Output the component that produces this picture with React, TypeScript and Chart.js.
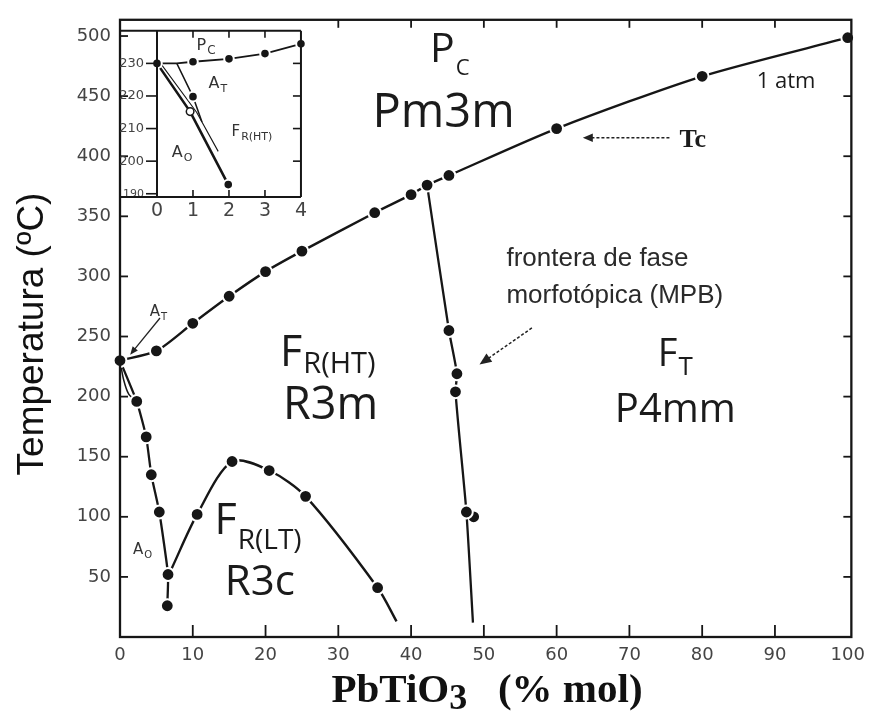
import React, { useEffect, useRef } from "react";
import { Chart, registerables } from "chart.js";
Chart.register(...registerables);

// ---------------- data (main diagram) ----------------
const xTickVals = [0, 10, 20, 30, 40, 50, 60, 70, 80, 90, 100];
const yTickVals = [50, 100, 150, 200, 250, 300, 350, 400, 450, 500];

// Curie temperature line (Pc / ferroelectric boundary)
const tcX = [0, 5, 10, 15, 20, 25, 35, 40, 42.2, 45.2, 60, 80, 100];
const tcT = [230, 238, 261, 283.5, 304, 321, 353, 368, 376, 384, 423, 466.5, 498.6];
const tcDots = [0, 1, 2, 3, 4, 5, 6, 7, 8, 9, 10, 11, 12];

// morphotropic phase boundary
const mpbX = [42.2, 45.2, 46.3, 46.1, 47.6, 48.5];
const mpbT = [376, 255, 219, 204, 104, 12];
const mpbDots = [1, 2, 3, 4];
const mpbExtraX = [48.6];
const mpbExtraT = [100];

// antiferroelectric (Ao) boundary
const aoX = [0, 2.3, 3.6, 4.3, 5.4, 6.6, 6.5];
const aoT = [230, 196, 166.5, 135, 104, 52, 26];
const aoDots = [1, 2, 3, 4, 5, 6];
const atLegX = [0, 0.5, 1.2, 2.3];
const atLegT = [230, 214, 202, 196];

// FR(LT) / FR(HT) boundary
const ltX = [7.1, 10.6, 15.4, 20.5, 25.5, 35.4, 38.0];
const ltT = [57, 102, 146, 138.5, 117, 41, 13];
const ltDots = [1, 2, 3, 4, 5];

// ---------------- data (inset) ----------------
const inXTicks = [0, 1, 2, 3, 4];
const inYTicks = [190, 200, 210, 220, 230];
const inTopX = [0, 0.55, 1, 2, 3, 4];
const inTopT = [230, 230, 230.5, 231.4, 233, 236];
const inTopDots = [0, 2, 3, 4, 5];
const inAX = [0, 0.92, 1.98];
const inAT = [230, 215.2, 192.8];
const inADots = [2];
const inBX = [0.55, 1, 1.25];
const inBT = [230, 219.8, 212];
const inBDots = [1];
const inCX = [0.1, 1.1, 1.7];
const inCT = [230, 215, 203];
const inOpenX = [0.92];
const inOpenT = [215.2];

// ---------------- styling ----------------
const INK = "#161616";
const TICK_FONT = '"DejaVu Sans", sans-serif';
const LABEL_FONT = '"Open Sans", "DejaVu Sans", sans-serif';

type Lbl = { text: string; sub?: string; x: number; y: number; size: number; subSize?: number; dy?: number; family?: string; weight?: string; color?: string };

const mainLabels: Lbl[] = [
  { text: "P", sub: "C", x: 42.6, y: 478, size: 41, subSize: 22, dy: 13 },
  { text: "Pm3m", x: 34.7, y: 424.5, size: 47 },
  { text: "F", sub: "R(HT)", x: 22.0, y: 225.8, size: 43, subSize: 29, dy: 7 },
  { text: "R3m", x: 22.4, y: 181.3, size: 45 },
  { text: "F", sub: "R(LT)", x: 13.0, y: 85.7, size: 43, subSize: 28, dy: 15 },
  { text: "R3c", x: 14.4, y: 34.6, size: 42 },
  { text: "F", sub: "T", x: 73.9, y: 225.8, size: 38, subSize: 26, dy: 9 },
  { text: "P4mm", x: 68.0, y: 178.9, size: 40 },
  { text: "1 atm", x: 87.5, y: 456.6, size: 22 },
  { text: "Tc", x: 76.9, y: 408, size: 26, family: '"Liberation Serif", serif', weight: "bold" },
  { text: "frontera de fase", x: 53.1, y: 308.3, size: 26, family: '"Liberation Sans", sans-serif', color: "#2a2a2a" },
  { text: "morfotópica (MPB)", x: 53.1, y: 277.7, size: 26, family: '"Liberation Sans", sans-serif', color: "#2a2a2a" },
  { text: "A", sub: "T", x: 4.1, y: 267, size: 15, subSize: 10, dy: 4, family: TICK_FONT, color: "#333" },
  { text: "A", sub: "O", x: 1.8, y: 69.2, size: 15, subSize: 10, dy: 4, family: TICK_FONT, color: "#333" },
];

type Arr = { x1: number; y1: number; x2: number; y2: number; dash: number[]; w: number; head: number };
const mainArrows: Arr[] = [
  { x1: 75.5, y1: 415.4, x2: 63.6, y2: 415.4, dash: [3, 2], w: 1.5, head: 10 },
  { x1: 56.6, y1: 257.1, x2: 49.4, y2: 226.7, dash: [3, 2], w: 1.5, head: 12 },
  { x1: 5.5, y1: 265.4, x2: 1.4, y2: 234.9, dash: [], w: 1.3, head: 8 },
];

const insetLabels: Lbl[] = [
  { text: "P", sub: "C", x: 1.1, y: 234.1, size: 16, subSize: 12, dy: 4, family: TICK_FONT, color: "#333" },
  { text: "A", sub: "T", x: 1.43, y: 222.4, size: 16, subSize: 11, dy: 4, family: TICK_FONT, color: "#333" },
  { text: "F", sub: "R(HT)", x: 2.07, y: 207.7, size: 15, subSize: 11, dy: 4, family: TICK_FONT, color: "#333" },
  { text: "A", sub: "O", x: 0.41, y: 201.3, size: 16, subSize: 11, dy: 4, family: TICK_FONT, color: "#333" },
];

// ---------------- helpers ----------------
const pts = (xs: number[], ys: number[]) => xs.map((x, i) => ({ x, y: ys[i] }));

function lineDs(xs: number[], ys: number[], dots: number[], width = 2.4, tension = 0.3, r = 6.4) {
  return {
    type: "scatter",
    data: pts(xs, ys),
    showLine: true,
    borderColor: INK,
    borderWidth: width,
    tension,
    pointRadius: xs.map((_, i) => (dots.includes(i) ? r : 0)),
    pointBackgroundColor: INK,
    pointBorderColor: "#fff",
    pointBorderWidth: 2,
    clip: false,
  };
}
function dotsDs(xs: number[], ys: number[], r = 6.4) {
  return {
    type: "scatter",
    data: pts(xs, ys),
    showLine: false,
    pointRadius: r,
    pointBackgroundColor: INK,
    pointBorderColor: "#fff",
    pointBorderWidth: 2,
    clip: false,
  };
}
function openDs(xs: number[], ys: number[]) {
  return {
    type: "scatter",
    data: pts(xs, ys),
    showLine: false,
    pointRadius: 3.8,
    pointBackgroundColor: "#fff",
    pointBorderColor: INK,
    pointBorderWidth: 1.5,
    clip: false,
  };
}

function drawLabel(ctx: CanvasRenderingContext2D, l: Lbl, px: number, py: number) {
  const fam = l.family || LABEL_FONT;
  const w = l.weight || "normal";
  ctx.fillStyle = l.color || "#1b1b1b";
  ctx.textAlign = "left";
  ctx.textBaseline = "alphabetic";
  ctx.font = `${w} ${l.size}px ${fam}`;
  ctx.fillText(l.text, px, py);
  if (l.sub) {
    const mw = ctx.measureText(l.text).width;
    ctx.font = `${w} ${l.subSize}px ${fam}`;
    ctx.fillText(l.sub, px + mw + 1, py + (l.dy || 0));
  }
}

function drawArrow(ctx: CanvasRenderingContext2D, x1: number, y1: number, x2: number, y2: number, a: Arr) {
  const ang = Math.atan2(y2 - y1, x2 - x1);
  ctx.strokeStyle = "#222";
  ctx.fillStyle = "#222";
  ctx.lineWidth = a.w;
  ctx.setLineDash(a.dash);
  ctx.beginPath();
  ctx.moveTo(x1, y1);
  ctx.lineTo(x2 - Math.cos(ang) * a.head * 0.6, y2 - Math.sin(ang) * a.head * 0.6);
  ctx.stroke();
  ctx.setLineDash([]);
  const hw = a.head * 0.42;
  ctx.beginPath();
  ctx.moveTo(x2, y2);
  ctx.lineTo(x2 - Math.cos(ang) * a.head + Math.sin(ang) * hw, y2 - Math.sin(ang) * a.head - Math.cos(ang) * hw);
  ctx.lineTo(x2 - Math.cos(ang) * a.head - Math.sin(ang) * hw, y2 - Math.sin(ang) * a.head + Math.cos(ang) * hw);
  ctx.closePath();
  ctx.fill();
}

function tick(ctx: CanvasRenderingContext2D, x1: number, y1: number, x2: number, y2: number) {
  ctx.beginPath();
  ctx.moveTo(x1, y1);
  ctx.lineTo(x2, y2);
  ctx.stroke();
}

// ---------------- plugins ----------------
const mainDecor = {
  id: "mainDecor",
  afterDatasetsDraw(chart: any) {
    const ctx: CanvasRenderingContext2D = chart.ctx;
    const xs = chart.scales.x, ys = chart.scales.y;
    ctx.save();
    mainArrows.forEach((a) =>
      drawArrow(ctx, xs.getPixelForValue(a.x1), ys.getPixelForValue(a.y1), xs.getPixelForValue(a.x2), ys.getPixelForValue(a.y2), a)
    );
    mainLabels.forEach((l) => drawLabel(ctx, l, xs.getPixelForValue(l.x), ys.getPixelForValue(l.y)));
    ctx.restore();
  },
  afterDraw(chart: any) {
    const ctx: CanvasRenderingContext2D = chart.ctx;
    const { left, right, top, bottom } = chart.chartArea;
    const xs = chart.scales.x, ys = chart.scales.y;
    ctx.save();
    ctx.strokeStyle = INK;
    ctx.lineWidth = 2.3;
    ctx.strokeRect(left, top, right - left, bottom - top);
    ctx.lineWidth = 1.8;
    yTickVals.forEach((v) => {
      const y = ys.getPixelForValue(v);
      tick(ctx, left, y, left + 8, y);
      if (v < 500) tick(ctx, right, y, right - 8, y);
    });
    xTickVals.forEach((v) => {
      if (v === 0 || v === 100) return;
      const x = xs.getPixelForValue(v);
      tick(ctx, x, bottom, x, bottom - 12);
      if (v >= 30) tick(ctx, x, top, x, top + 8);
    });
    // axis titles
    ctx.fillStyle = "#111";
    ctx.save();
    ctx.translate(43, 334);
    ctx.rotate(-Math.PI / 2);
    ctx.font = '37px "Liberation Sans", Arial, sans-serif';
    ctx.textAlign = "center";
    ctx.textBaseline = "alphabetic";
    ctx.fillText("Temperatura (ºC)", 0, 0);
    ctx.restore();

    const parts = [
      { t: "PbTiO", s: 41, dy: 0 },
      { t: "3", s: 36, dy: 7 },
      { t: "   (% mol)", s: 41, dy: 0 },
    ];
    let total = 0;
    parts.forEach((p) => {
      ctx.font = `bold ${p.s}px "Liberation Serif", serif`;
      total += ctx.measureText(p.t).width;
    });
    let cx = 487 - total / 2;
    ctx.textAlign = "left";
    parts.forEach((p) => {
      ctx.font = `bold ${p.s}px "Liberation Serif", serif`;
      ctx.fillText(p.t, cx, 702 + p.dy);
      cx += ctx.measureText(p.t).width;
    });
    ctx.restore();
  },
};

const insetDecor = {
  id: "insetDecor",
  afterDatasetsDraw(chart: any) {
    const ctx: CanvasRenderingContext2D = chart.ctx;
    const xs = chart.scales.x, ys = chart.scales.y;
    ctx.save();
    insetLabels.forEach((l) => drawLabel(ctx, l, xs.getPixelForValue(l.x), ys.getPixelForValue(l.y)));
    ctx.restore();
  },
  afterDraw(chart: any) {
    const ctx: CanvasRenderingContext2D = chart.ctx;
    const { left, right, top, bottom } = chart.chartArea;
    const xs = chart.scales.x, ys = chart.scales.y;
    ctx.save();
    ctx.strokeStyle = INK;
    ctx.lineWidth = 2;
    tick(ctx, 10, bottom, right, bottom);
    tick(ctx, right, top, right, bottom);
    tick(ctx, 10, top, right, top);
    tick(ctx, left, top, left, bottom);
    ctx.lineWidth = 1.6;
    inYTicks.forEach((v) => {
      const y = ys.getPixelForValue(v);
      tick(ctx, left - 11, y, left, y);
      if (v > 190) tick(ctx, right, y, right - 8, y);
    });
    inXTicks.forEach((v) => {
      if (v === 0 || v === 4) return;
      const x = xs.getPixelForValue(v);
      tick(ctx, x, bottom, x, bottom - 7);
      tick(ctx, x, top, x, top + 7);
    });
    ctx.restore();
  },
};

// ---------------- configs ----------------
function mainConfig(): any {
  return {
    type: "scatter",
    data: {
      datasets: [
        lineDs(tcX, tcT, tcDots, 2.4, 0.25),
        lineDs(mpbX, mpbT, mpbDots, 2.3, 0.2),
        dotsDs(mpbExtraX, mpbExtraT),
        lineDs(aoX, aoT, aoDots, 2.3, 0.15),
        lineDs(atLegX, atLegT, [], 1.5, 0.3),
        lineDs(ltX, ltT, ltDots, 2.4, 0.3),
      ],
    },
    options: {
      responsive: false,
      animation: false,
      devicePixelRatio: 1,
      events: [],
      layout: { padding: { left: 0, top: 14, right: 21, bottom: 0 } },
      plugins: { legend: { display: false }, tooltip: { enabled: false } },
      scales: {
        x: {
          type: "linear",
          min: 0,
          max: 100.5,
          grid: { display: false, drawTicks: false },
          border: { display: false },
          afterBuildTicks: (s: any) => {
            s.ticks = xTickVals.map((v) => ({ value: v }));
          },
          afterFit: (s: any) => {
            s.height = 80;
          },
          ticks: { font: { family: TICK_FONT, size: 18 }, color: "#444", padding: 8, maxRotation: 0, autoSkip: false },
        },
        y: {
          type: "linear",
          min: 0,
          max: 513.5,
          grid: { display: false, drawTicks: false },
          border: { display: false },
          afterBuildTicks: (s: any) => {
            s.ticks = yTickVals.map((v) => ({ value: v }));
          },
          afterFit: (s: any) => {
            s.width = 120;
          },
          ticks: { font: { family: TICK_FONT, size: 18 }, color: "#444", padding: 9, autoSkip: false },
        },
      },
    },
    plugins: [mainDecor],
  };
}

function insetConfig(): any {
  return {
    type: "scatter",
    data: {
      datasets: [
        lineDs(inTopX, inTopT, inTopDots, 1.8, 0, 4.8),
        openDs(inOpenX, inOpenT),
        lineDs(inAX, inAT, inADots, 2.6, 0, 4.8),
        lineDs(inBX, inBT, inBDots, 1.5, 0, 4.8),
        lineDs(inCX, inCT, [], 1.1, 0),
      ],
    },
    options: {
      responsive: false,
      animation: false,
      devicePixelRatio: 1,
      events: [],
      layout: { padding: { left: 0, top: 4, right: 8, bottom: 0 } },
      plugins: { legend: { display: false }, tooltip: { enabled: false } },
      scales: {
        x: {
          type: "linear",
          min: 0,
          max: 4,
          grid: { display: false, drawTicks: false },
          border: { display: false },
          afterBuildTicks: (s: any) => {
            s.ticks = inXTicks.map((v) => ({ value: v }));
          },
          afterFit: (s: any) => {
            s.height = 33;
          },
          ticks: { font: { family: TICK_FONT, size: 19 }, color: "#444", padding: 3, maxRotation: 0, autoSkip: false },
        },
        y: {
          type: "linear",
          min: 189,
          max: 240,
          grid: { display: false, drawTicks: false },
          border: { display: false },
          afterBuildTicks: (s: any) => {
            s.ticks = inYTicks.map((v) => ({ value: v }));
          },
          afterFit: (s: any) => {
            s.width = 47;
          },
          ticks: {
            font: (c: any) => ({ family: TICK_FONT, size: c.tick && c.tick.value === 190 ? 11 : 13 }),
            color: "#444",
            padding: 13,
            autoSkip: false,
          },
        },
      },
    },
    plugins: [insetDecor],
  };
}

export default function App() {
  const mainRef = useRef<HTMLCanvasElement>(null);
  const insetRef = useRef<HTMLCanvasElement>(null);
  useEffect(() => {
    const main = new Chart(mainRef.current as HTMLCanvasElement, mainConfig());
    const inset = new Chart(insetRef.current as HTMLCanvasElement, insetConfig());
    return () => {
      main.destroy();
      inset.destroy();
    };
  }, []);
  return (
    <div style={{ position: "fixed", left: 0, top: 0, width: 873, height: 717, background: "#fff", overflow: "hidden" }}>
      <canvas ref={mainRef} width={873} height={717} style={{ position: "absolute", left: 0, top: 0, width: 873, height: 717 }} />
      <canvas ref={insetRef} width={200} height={220} style={{ position: "absolute", left: 110, top: 10, width: 200, height: 220 }} />
    </div>
  );
}
